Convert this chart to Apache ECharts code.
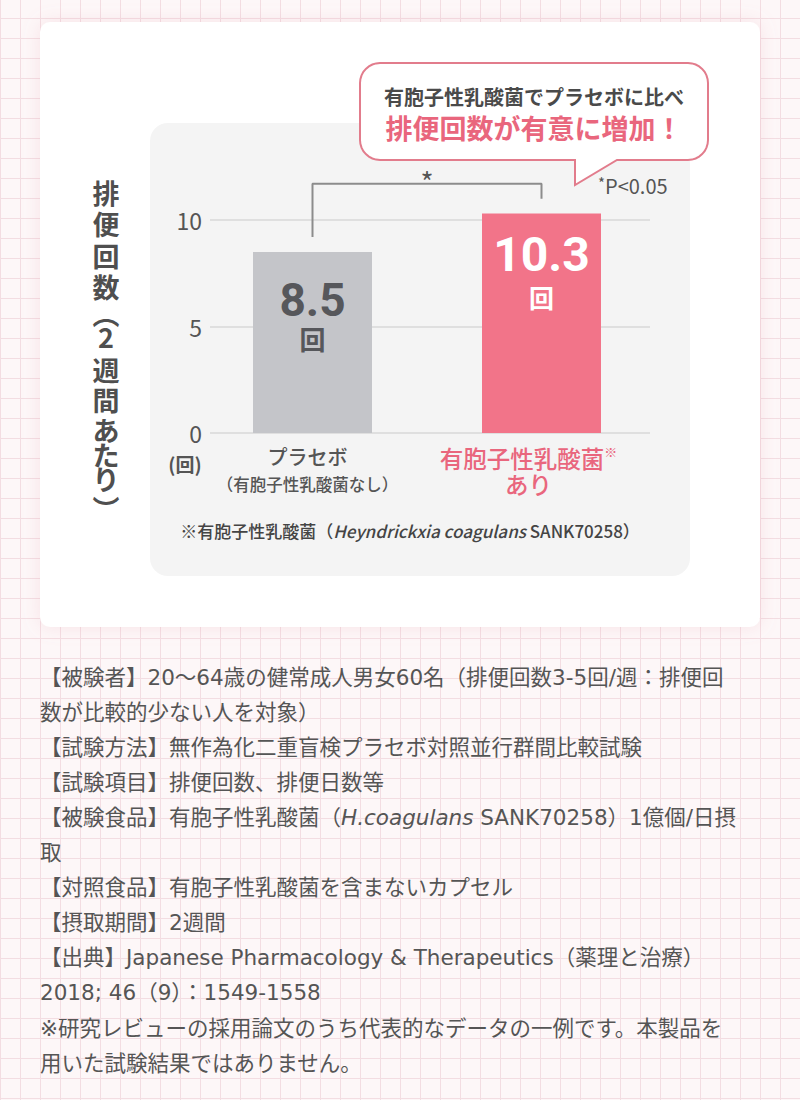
<!DOCTYPE html>
<html lang="ja">
<head>
<meta charset="utf-8">
<title>排便回数</title>
<script src="https://cdn.jsdelivr.net/npm/echarts@6/dist/echarts.min.js"></script>
<style>
  html, body { margin: 0; padding: 0; }
  body {
    width: 800px;
    height: 1100px;
    background-color: #fdf7f8;
    background-image:
      linear-gradient(to right, #f3dde2 1px, transparent 1px),
      linear-gradient(to bottom, #f3dde2 1px, transparent 1px);
    background-size: 20px 20px;
    background-position: 0 -2px;
  }
  #main { width: 800px; height: 1100px; }
</style>
</head>
<body>
<div id="main"></div>
<script>
// フォント
const CJK = '"Noto Sans CJK JP", sans-serif';
const NOTE_FONT = '"DejaVu Sans", "Noto Sans CJK JP", sans-serif';

// データ
const categories = ['プラセボ', '有胞子性乳酸菌'];
const subLabels = ['（有胞子性乳酸菌なし）', 'あり'];
const values = [8.5, 10.3];
const yMin = 0;
const yMax = 15;
const yStep = 5;
// 有意差ブラケット（左脚の下端, 上辺, 右脚の下端）
const bracketY = [9.2, 11.7, 11.0];

// 縦書きの軸タイトル（文字ごとの中心y）
const yTitle = ['排', '便', '回', '数', '︵', '2', '週', '間', 'あ', 'た', 'り', '︶'];
const yTitleY = [192, 223, 255, 286, 313, 336, 369, 399, 429, 454, 478, 508];

const noteLines = [
  '【被験者】20〜64歳の健常成人男女60名（排便回数3-5回/週：排便回',
  '数が比較的少ない人を対象）',
  '【試験方法】無作為化二重盲検プラセボ対照並行群間比較試験',
  '【試験項目】排便回数、排便日数等',
  '【被験食品】有胞子性乳酸菌（{i|H.coagulans} SANK70258）1億個/日摂',
  '取',
  '【対照食品】有胞子性乳酸菌を含まないカプセル',
  '【摂取期間】2週間',
  '【出典】Japanese Pharmacology & Therapeutics（薬理と治療）',
  '2018; 46（9）：1549-1558',
  '※研究レビューの採用論文のうち代表的なデータの一例です。本製品を',
  '用いた試験結果ではありません。'
];

const GRAY = '#c4c5c9';
const PINK = '#f27489';
const PINK_TEXT = '#e9667d';
const DARK = '#555555';

function txt(x, y, text, st) {
  return {
    type: 'text', x: x, y: y, z: 10,
    style: Object.assign({
      text: text,
      fontFamily: CJK,
      fill: DARK,
      align: 'center', textAlign: 'center',
      verticalAlign: 'middle', textVerticalAlign: 'middle'
    }, st)
  };
}

// 吹き出しの輪郭
function bubblePoints(x0, y0, x1, y1, r) {
  const pts = [];
  const arc = (cx, cy, a0, a1) => {
    for (let k = 0; k <= 8; k++) {
      const a = (a0 + (a1 - a0) * k / 8) * Math.PI / 180;
      pts.push([cx + r * Math.cos(a), cy + r * Math.sin(a)]);
    }
  };
  arc(x0 + r, y0 + r, 180, 270);
  arc(x1 - r, y0 + r, 270, 360);
  arc(x1 - r, y1 - r, 0, 90);
  pts.push([617, y1], [575, 185], [575, y1]);
  arc(x0 + r, y1 - r, 90, 180);
  return pts;
}

const chart = echarts.init(document.getElementById('main'), null, { renderer: 'svg' });

const graphics = [
  {
    type: 'rect', z: -10,
    shape: { x: 40, y: 22, width: 720, height: 605, r: 10 },
    style: { fill: '#ffffff', shadowBlur: 18, shadowColor: 'rgba(226,150,165,0.22)' }
  },
  {
    type: 'rect', z: -9,
    shape: { x: 150, y: 123, width: 540, height: 453, r: 18 },
    style: { fill: '#f4f4f4' }
  },
  {
    type: 'polygon', z: 8,
    shape: { points: bubblePoints(360, 63, 708, 160, 20) },
    style: { fill: '#ffffff', stroke: '#e27c8c', lineWidth: 2 }
  },
  txt(534, 96, '有胞子性乳酸菌でプラセボに比べ', { fontSize: 20, fontWeight: 'bold', fill: '#4a4a4a' }),
  txt(534, 127, '排便回数が有意に増加！', { fontSize: 27, fontWeight: 'bold', fill: PINK_TEXT }),
  txt(185, 463, '(回)', { fontSize: 19, fontWeight: 'bold' }),
  txt(427, 181, '*', { fontSize: 28 }),
  {
    type: 'text', x: 598, y: 185, z: 10,
    style: {
      text: '{s|*}P<0.05',
      fontFamily: CJK, fontSize: 20, fill: DARK,
      align: 'left', textAlign: 'left',
      verticalAlign: 'middle', textVerticalAlign: 'middle',
      rich: { s: { fontFamily: CJK, fontSize: 15, fill: DARK, verticalAlign: 'top' } }
    }
  },
  {
    type: 'text', x: 410, y: 530, z: 10,
    style: {
      text: '※有胞子性乳酸菌（{i|Heyndrickxia coagulans} SANK70258）',
      fontFamily: CJK, fontSize: 17, fontWeight: 500, fill: '#444',
      align: 'center', textAlign: 'center',
      verticalAlign: 'middle', textVerticalAlign: 'middle',
      rich: { i: { fontFamily: CJK, fontSize: 17, fontWeight: 500, fontStyle: 'italic', fill: '#444' } }
    }
  }
];

yTitle.forEach((ch, i) => {
  graphics.push(txt(106, yTitleY[i], ch, { fontSize: 27, fontWeight: 'bold', fill: '#4f4f4f' }));
});

noteLines.forEach((line, i) => {
  graphics.push({
    type: 'text', x: 40, y: 677 + i * 35.1, z: 10,
    style: {
      text: line,
      fontFamily: NOTE_FONT, fontSize: 21.5, fill: DARK,
      align: 'left', textAlign: 'left',
      verticalAlign: 'middle', textVerticalAlign: 'middle',
      rich: { i: { fontFamily: NOTE_FONT, fontSize: 21.5, fontStyle: 'italic', fill: DARK } }
    }
  });
});

const barLabels = [
  {
    show: true, position: 'insideTop', distance: 25,
    formatter: p => `{n|${p.value.toFixed(1)}}\n{u|回}`,
    rich: {
      n: { fontFamily: 'Roboto', fontSize: 46, fontWeight: 'bold', color: '#56575b', lineHeight: 46 },
      u: { fontFamily: CJK, fontSize: 26, fontWeight: 'bold', color: '#56575b', lineHeight: 32 }
    }
  },
  {
    show: true, position: 'insideTop', distance: 17,
    formatter: p => `{n|${p.value.toFixed(1)}}\n{u|回}`,
    rich: {
      n: { fontFamily: 'Roboto', fontSize: 48, fontWeight: 'bold', color: '#ffffff', lineHeight: 48 },
      u: { fontFamily: CJK, fontSize: 25, fontWeight: 'bold', color: '#ffffff', lineHeight: 36 }
    }
  }
];

const option = {
  animation: false,
  textStyle: { fontFamily: CJK },
  graphic: graphics,
  grid: [
    { left: 210, right: 150, top: 113.5, bottom: 667, outerBoundsMode: 'none' },
    { left: 198, right: 144, top: 113.5, bottom: 667, outerBoundsMode: 'none' }
  ],
  xAxis: [
    { type: 'category', gridIndex: 0, data: categories, show: false },
    {
      type: 'category', gridIndex: 1, data: categories,
      axisLine: { show: false },
      axisTick: { show: false },
      axisLabel: {
        interval: 0,
        margin: 12,
        formatter: (v, i) => i === 0
          ? `{a|${v}}\n{b|${subLabels[i]}}`
          : `{p|${v}}{sup|※}\n{q|${subLabels[i]}}`,
        rich: {
          a: { fontFamily: CJK, fontSize: 20, fontWeight: 500, color: DARK, lineHeight: 22, padding: [0, 10, 0, 0] },
          b: { fontFamily: CJK, fontSize: 16.5, fontWeight: 500, color: DARK, lineHeight: 34, padding: [0, 10, 0, 0] },
          p: { fontFamily: CJK, fontSize: 23.5, fontWeight: 500, color: PINK_TEXT, lineHeight: 26 },
          sup: { fontFamily: CJK, fontSize: 13, color: PINK_TEXT, lineHeight: 26, verticalAlign: 'top', padding: [0, 26, 0, 0] },
          q: { fontFamily: CJK, fontSize: 23.5, fontWeight: 500, color: PINK_TEXT, lineHeight: 26, padding: [0, 26, 0, 0] }
        }
      }
    }
  ],
  yAxis: [
    {
      type: 'value', gridIndex: 0, min: yMin, max: yMax, interval: yStep,
      axisLine: { show: false },
      axisTick: { show: false },
      axisLabel: { margin: 8, fontSize: 23, color: DARK, fontFamily: CJK, showMaxLabel: false },
      splitLine: { show: true, showMaxLine: false, lineStyle: { color: '#d9d9d9', width: 1.5 } }
    },
    {
      type: 'value', gridIndex: 1, min: yMin, max: yMax, interval: yStep, show: false,
      splitLine: { show: false }
    }
  ],
  series: [
    {
      type: 'bar',
      xAxisIndex: 1, yAxisIndex: 1,
      barWidth: 119,
      silent: true,
      data: values.map((v, i) => ({
        value: v,
        itemStyle: { color: i === 0 ? GRAY : PINK },
        label: barLabels[i]
      }))
    },
    {
      type: 'line',
      xAxisIndex: 1, yAxisIndex: 1,
      symbol: 'none',
      silent: true,
      lineStyle: { color: '#8c8c8c', width: 2 },
      data: [[0, bracketY[0]], [0, bracketY[1]], [1, bracketY[1]], [1, bracketY[2]]]
    }
  ]
};

chart.setOption(option);
</script>
</body>
</html>
